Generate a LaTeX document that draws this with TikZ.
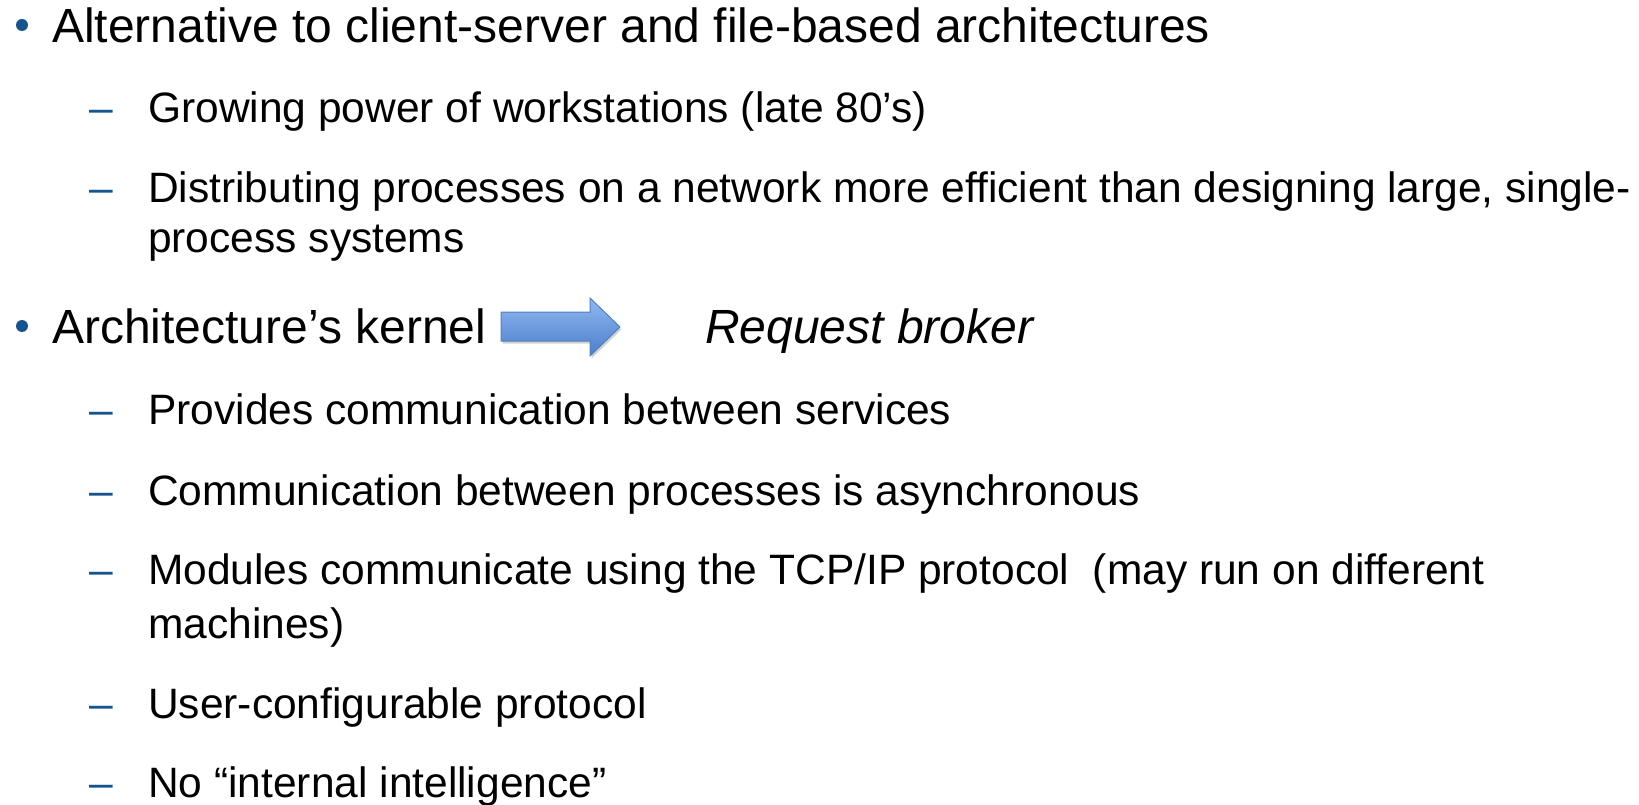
\documentclass[tikz,border=0pt]{standalone}
\usepackage{fontspec}
\setmainfont{Liberation Sans}
\usetikzlibrary{positioning, shadows}

\definecolor{slideblue}{RGB}{23,84,142}
\definecolor{arrowtop}{RGB}{146,184,240}
\definecolor{arrowbot}{RGB}{74,126,204}
\definecolor{arrowline}{RGB}{79,129,189}

\begin{document}
\begin{tikzpicture} [x=1pt, y=-1pt,
            bulletdot/.style = {circle, fill=slideblue, inner sep=0pt, minimum size=12pt},
            toptext/.style = {anchor=base west, inner sep=0pt, font=\fontsize{48}{58}\selectfont},
            subtext/.style = {anchor=base west, inner sep=0pt,
                font=\fontsize{42.5}{50}\selectfont},
            subdash/.style = {anchor=base west, inner sep=0pt, text=slideblue,
                font=\fontsize{42.5}{50}\selectfont}]

        \useasboundingbox (0,0) rectangle (1639,805);

        % First bullet
        \node (b1) [bulletdot] at (22,25) {};
        \node (t1) [toptext] at (52,43) {Alternative to client-server and file-based architectures};

        % Sub items of the first bullet
        \node (d1) [subdash] at (89,123) {–};
        \node (s1) [subtext] at (148,123) {Growing power of workstations (late 80’s)};

        \node (d2) [subdash] at (89,203) {–};
        \node (s2) [subtext] at (148,203) {Distributing processes on a network more efficient than designing large, single-};
        \node (s2b) [subtext] at (148,253) {process systems};

        % Second bullet
        \node (b2) [bulletdot] at (22,326) {};
        \node (t2) [toptext] at (52,343) {Architecture’s kernel};

        % Block arrow
        \path [top color=arrowtop, bottom color=arrowbot, draw=arrowline, line width=1pt,
            drop shadow={shadow xshift=1.5pt, shadow yshift=-2.5pt, opacity=0.35}]
            (501,312) -- (590,312) -- (590,298) -- (620,327) -- (590,356)
            -- (590,341) -- (501,341) -- cycle;
        \coordinate (tip) at (620,327);

        \node (t3) [toptext, font=\fontsize{48}{58}\selectfont\itshape] at (705,343) {Request broker};

        % Sub items of the second bullet
        \node (d3) [subdash] at (89,424) {–};
        \node (s3) [subtext] at (148,424) {Provides communication between services};

        \node (d4) [subdash] at (89,505) {–};
        \node (s4) [subtext] at (148,505) {Communication between processes is asynchronous};

        \node (d5) [subdash] at (89,584) {–};
        \node (s5) [subtext] at (148,584) {Modules communicate using the TCP/IP protocol\ \ (may run on different};
        \node (s5b) [subtext] at (148,638) {machines)};

        \node (d6) [subdash] at (89,718) {–};
        \node (s6) [subtext] at (148,718) {User-configurable protocol};

        \node (d7) [subdash] at (89,797) {–};
        \node (s7) [subtext] at (148,797) {No “internal intelligence”};
\end{tikzpicture}
\end{document}
